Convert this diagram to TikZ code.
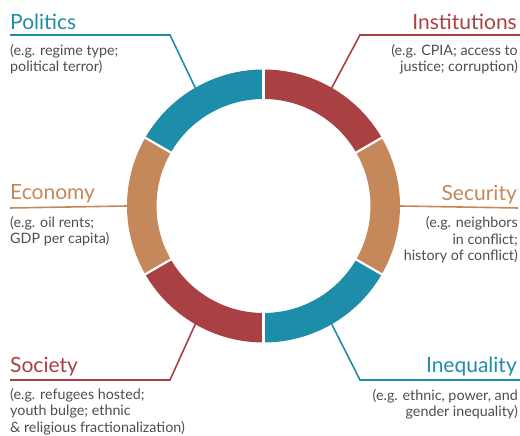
\documentclass[tikz,border=0pt]{standalone}
\usepackage{fontspec}
\setmainfont{Lato}
\usetikzlibrary{calc}
\definecolor{cblue}{HTML}{1D8DA9}
\definecolor{cred}{HTML}{A84044}
\definecolor{corange}{HTML}{C5885A}
\definecolor{cgray}{HTML}{4D4D4D}
\tikzset{
  title/.style={inner sep=0pt, font=\fontsize{21}{24}\selectfont},
  sub/.style={inner sep=0pt, text=cgray, font=\fontsize{14.3}{16.5}\selectfont},
  conn/.style={line width=1.6pt},
  gapline/.style={white, line width=2.2pt},
}
\begin{document}
\begin{tikzpicture}[x=1pt,y=1pt]
\useasboundingbox (0,0) rectangle (520,436);
\def\Ro{136.5}
\def\Ri{107}
\coordinate (c) at (263.5,230);
% ring segments
\foreach \a/\b/\col in {90/150/cblue, 30/90/cred, -30/30/corange, -90/-30/cblue, -150/-90/cred, 150/210/corange}{
  \fill[\col] ($(c)+(\a:\Ro)$) arc[start angle=\a, end angle=\b, radius=\Ro]
     -- ($(c)+(\b:\Ri)$) arc[start angle=\b, end angle=\a, radius=\Ri] -- cycle;
}
\foreach \a in {90,30,-30,-90,-150,150}{
  \draw[gapline] ($(c)+(\a:\Ri-2)$) -- ($(c)+(\a:\Ro+2)$);
}
% anchor points on ring
\coordinate (pol-r) at ($(c)+(120:\Ro)$);
\coordinate (ins-r) at ($(c)+(60:\Ro)$);
\coordinate (eco-r) at ($(c)+(180:\Ro)$);
\coordinate (sec-r) at ($(c)+(0:\Ro)$);
\coordinate (soc-r) at ($(c)+(240:\Ro)$);
\coordinate (ine-r) at ($(c)+(300:\Ro)$);
% line corners and ends
\coordinate (pol-a) at (10,401);  \coordinate (pol-b) at (170,401);
\coordinate (ins-a) at (520,401); \coordinate (ins-b) at (360,401);
\coordinate (eco-a) at (10,228);
\coordinate (sec-a) at (518,228);
\coordinate (soc-a) at (10,56);   \coordinate (soc-b) at (170,56);
\coordinate (ine-a) at (520,56);  \coordinate (ine-b) at (360,56);
% connectors
\draw[conn, cblue] (pol-a) -- (pol-b) -- (pol-r);
\draw[conn, cred] (ins-a) -- (ins-b) -- (ins-r);
\draw[conn, corange] (eco-a) -- (eco-r);
\draw[conn, corange] (sec-a) -- (sec-r);
\draw[conn, cred] (soc-a) -- (soc-b) -- (soc-r);
\draw[conn, cblue] (ine-a) -- (ine-b) -- (ine-r);
% labels
\node[title, text=cblue, anchor=base west] (pol) at (10,406) {Politics};
\node[sub, anchor=base west, align=left] (pol-s) at (10,364) {(e.g. regime type;\\political terror)};
\node[title, text=cred, anchor=base east] (ins) at (517,406) {Institutions};
\node[sub, anchor=base east, align=right] (ins-s) at (518,364) {(e.g. CPIA; access to\\justice; corruption)};
\node[title, text=corange, anchor=base west] (eco) at (10,236) {Economy};
\node[sub, anchor=base west, align=left] (eco-s) at (10,192) {(e.g. oil rents;\\GDP per capita)};
\node[title, text=corange, anchor=base east] (sec) at (517,235) {Security};
\node[sub, anchor=base east, align=right] (sec-s) at (518,175) {(e.g. neighbors\\in conflict;\\history of conflict)};
\node[title, text=cred, anchor=base west] (soc) at (10,63) {Society};
\node[sub, anchor=base west, align=left] (soc-s) at (10,3.5) {(e.g. refugees hosted;\\youth bulge; ethnic\\\& religious fractionalization)};
\node[title, text=cblue, anchor=base east] (ine) at (517,63) {Inequality};
\node[sub, anchor=base east, align=right] (ine-s) at (518,19) {(e.g. ethnic, power, and\\gender inequality)};
\end{tikzpicture}
\end{document}
